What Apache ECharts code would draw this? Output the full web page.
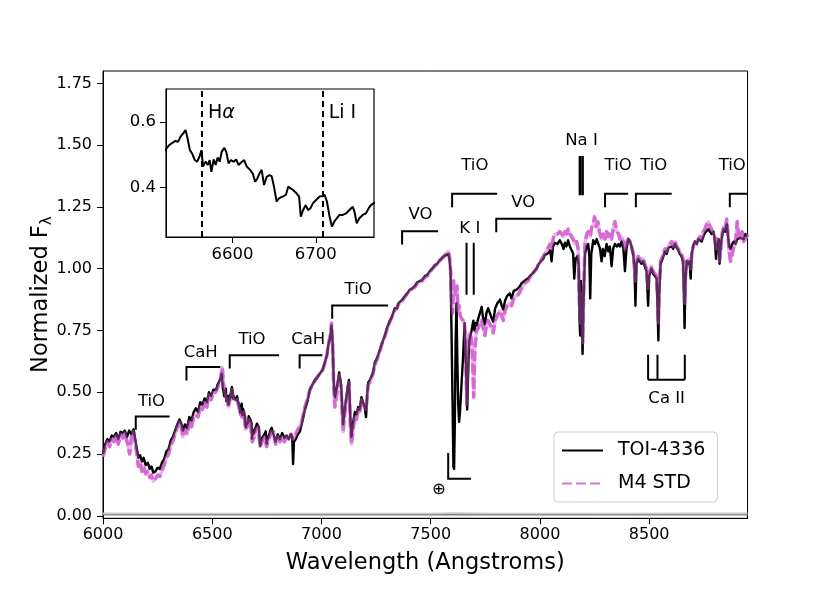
<!DOCTYPE html>
<html>
<head>
<meta charset="utf-8">
<script src="https://cdn.jsdelivr.net/npm/echarts@6.0.0/dist/echarts.min.js"></script>
<style>html,body{margin:0;padding:0;background:#fff}#c{width:830px;height:593px}</style>
</head>
<body>
<div id="c"></div>
<script>
// ---------- data ----------
const toiWave = [6000,6010,6020,6030,6040,6050,6060,6070,6080,6090,6100,6110,6120,6130,6140,6148,6155,6162,6170,6178,6186,6195,6205,6214,6222,6230,6240,6250,6260,6270,6280,6290,6300,6310,6320,6330,6340,6350,6358,6366,6375,6385,6395,6405,6415,6425,6435,6445,6455,6465,6475,6485,6495,6505,6518,
6520.4,6523.6,6527.6,6531.5,6534.3,6537.5,6540.7,6543.5,6545.5,6548.7,6551.4,6554.6,6557.4,6560.2,6562.6,6564.6,6567.4,6570.2,6572.5,6574.5,6577.3,6579.7,6582.1,6584.5,6586.9,6590.1,6592.4,6595.2,6598.0,6601.2,6604.4,6607.2,6610.0,6613.9,6617.1,6621.1,6624.3,6627.1,6629.8,6632.2,6635.0,6637.8,6641.0,6644.2,6647.0,6649.8,6652.9,6656.1,6660.1,6664.1,6666.9,6669.7,6672.8,6676.8,6680.0,6682.0,6684.8,6688.0,6690.7,6693.5,6696.7,6700.7,6704.7,6707.9,6710.7,6713.4,6716.6,6719.4,6722.6,6725.4,6728.6,6732.5,6736.5,6740.5,6744.5,6746.5,6749.2,6752.4,6756.4,6760.4,6763.5,6766.3,6769.1,6772,
6780,6790,6800,6810,6820,6830,6840,6850,6860,6866,6870,6874,6882,6892,6901,6912,6924,6935,6947,6958,6970,6980,6992,7005,7015,7025,7031,7040,7046,7051,7056,7061,7071,7081,7090,7099,7105,7111,7120,7126,7132,7137,7145,7153,7160,7168,7175,7183,7190,7198,7204,7210,7214,7222,7229,7236,7244,7255,7267,7278,7290,7300,7313,7320,7328,7336,7346,7352,7359,7370,7382,7393,7404,7415,7427,7438,7450,7461,7473,7484,7496,7507,7519,7530,7541,7550,7560,7570,7580,7586,7591,7596,7600,7604,7607,7610,7614,7618,7622,7626,7630,7634,7639,7644,7648,7655,7661,7667,7672,7676,7682,7687,7695,7700,7705,7710,7718,7725,7733,7740,7748,7755,7763,7771,7779,7786,7795,7805,7817,7825,7832,7840,7850,7862,7870,7880,7893,7905,7915,7923,7935,7945,7954,7965,7975,7984,7995,8005,8015,8022,8030,8040,8047,8053,8060,8068,8080,8091,8100,8108,8114,8121,8129,8137,8145,8152,8157,8163,8171,8177,8181,8184,8188,8192,8195,8199,8206,8214,8221,8226,8230,8235,8244,8252,8260,8267,8275,8282,8288,8296,8305,8313,8320,8328,8335,8343,8352,8360,8366,8374,8382,8389,8396,8404,8412,8419,8428,8433,8437,8442,8450,8457,8465,8472,8480,8488,8495,8500,8511,8518,8526,8534,8538,8542,8546,8552,8557,8565,8572,8580,8588,8595,8603,8610,8618,8626,8633,8640,8648,8655,8659,8662,8666,8672,8679,8685,8690,8695,8702,8710,8718,8725,8733,8740,8748,8755,8763,8771,8778,8786,8794,8800,8806,8812,8818,8822,8828,8835,8842,8848,8855,8860,8866,8872,8880,8888,8895,8903,8910,8918,8925,8932,8940,8950];
const toiFlux = [0.25,0.29,0.31,0.30,0.325,0.32,0.335,0.31,0.34,0.335,0.345,0.32,0.345,0.33,0.35,0.355,0.27,0.235,0.245,0.22,0.235,0.205,0.215,0.19,0.2,0.175,0.18,0.195,0.19,0.215,0.23,0.26,0.27,0.305,0.32,0.345,0.37,0.39,0.375,0.345,0.37,0.355,0.4,0.385,0.42,0.435,0.42,0.46,0.45,0.475,0.46,0.5,0.485,0.51,0.51,
0.514,0.529,0.536,0.542,0.539,0.555,0.565,0.575,0.555,0.514,0.504,0.484,0.479,0.494,0.514,0.464,0.479,0.469,0.484,0.448,0.486,0.469,0.492,0.479,0.509,0.521,0.509,0.474,0.484,0.479,0.486,0.469,0.476,0.484,0.464,0.454,0.443,0.418,0.428,0.443,0.454,0.408,0.433,0.438,0.435,0.403,0.358,0.368,0.373,0.378,0.403,0.398,0.393,0.383,0.373,0.312,0.332,0.347,0.332,0.337,0.353,0.363,0.373,0.375,0.378,0.358,0.312,0.282,0.298,0.307,0.317,0.317,0.322,0.332,0.342,0.327,0.292,0.307,0.317,0.322,0.337,0.347,0.352,0.356,
0.355,0.3,0.33,0.31,0.335,0.315,0.325,0.31,0.33,0.32,0.21,0.30,0.31,0.33,0.34,0.38,0.43,0.46,0.51,0.53,0.55,0.56,0.575,0.59,0.62,0.65,0.69,0.72,0.77,0.70,0.55,0.48,0.52,0.58,0.53,0.37,0.42,0.46,0.52,0.55,0.40,0.32,0.38,0.42,0.41,0.44,0.43,0.48,0.46,0.44,0.40,0.50,0.54,0.55,0.565,0.58,0.62,0.64,0.67,0.70,0.73,0.76,0.79,0.80,0.82,0.84,0.84,0.86,0.855,0.875,0.89,0.90,0.915,0.92,0.93,0.945,0.95,0.955,0.97,0.975,0.99,1.0,1.015,1.02,1.035,1.04,1.05,1.055,1.06,1.04,0.99,0.70,0.45,0.20,0.19,0.35,0.70,0.86,0.62,0.45,0.38,0.42,0.50,0.58,0.64,0.78,0.62,0.43,0.60,0.70,0.73,0.75,0.79,0.75,0.78,0.77,0.80,0.82,0.845,0.80,0.775,0.82,0.84,0.835,0.80,0.785,0.84,0.86,0.875,0.85,0.835,0.87,0.89,0.90,0.88,0.91,0.915,0.925,0.94,0.945,0.955,0.96,0.97,0.98,0.99,1.0,1.02,1.03,1.04,1.055,1.06,1.065,1.075,1.03,1.09,1.105,1.10,1.115,1.10,1.08,1.105,1.09,1.115,1.09,1.075,1.06,0.96,1.04,1.05,1.02,0.80,0.73,0.95,0.80,0.655,0.85,1.06,1.09,1.10,1.05,0.88,1.06,1.115,1.10,1.12,1.125,1.08,1.03,1.08,1.05,1.10,1.07,1.09,1.01,1.08,1.10,1.09,1.10,1.09,1.11,1.08,0.99,1.08,1.12,1.11,1.09,1.05,1.0,0.85,1.02,1.04,1.03,1.02,1.03,1.01,0.99,0.85,0.97,1.0,0.98,0.98,0.96,0.85,0.71,0.90,1.02,1.03,1.05,1.07,1.06,1.085,1.08,1.09,1.08,1.10,1.085,1.075,1.06,1.05,1.03,0.90,0.76,0.95,1.03,1.02,1.03,0.96,1.06,1.095,1.11,1.10,1.12,1.125,1.11,1.13,1.145,1.14,1.16,1.15,1.14,1.15,1.12,1.04,1.10,1.12,1.02,1.10,1.14,1.16,1.15,1.18,1.14,1.09,1.08,1.10,1.11,1.10,1.12,1.115,1.125,1.13,1.12,1.14,1.13];

const stdWave = [6000,6010,6020,6030,6040,6050,6060,6070,6080,6090,6100,6110,6122,6130,6140,6148,6155,6162,6170,6178,6186,6195,6205,6214,6222,6230,6240,6250,6260,6270,6280,6290,6300,6310,6320,6330,6340,6350,6358,6366,6375,6385,6395,6405,6415,6425,6435,6445,6455,6465,6475,6485,6495,6505,6515,6525,6535,6546,6552,6560,6567,6575,6583,6590,6598,6606,6614,6622,6630,6637,6645,6652,6660,6668,6676,6683,6692,6700,6710,6719,6728,6740,6749,6760,6770,6780,6790,6800,6810,6820,6830,6840,6850,6860,6870,6882,6892,6901,6912,6924,6935,6947,6958,6970,6980,6992,7005,7015,7025,7031,7040,7046,7051,7056,7061,7071,7081,7090,7099,7105,7111,7120,7126,7132,7137,7145,7153,7160,7168,7175,7183,7190,7198,7204,7210,7214,7222,7229,7236,7244,7255,7267,7278,7290,7300,7313,7320,7328,7336,7346,7352,7359,7370,7382,7393,7404,7415,7427,7438,7450,7461,7473,7484,7496,7507,7519,7530,7541,7550,7560,7570,7580,7586,7591,7596,7600,7605,7610,7615,7620,7625,7630,7635,7640,7648,7655,7660,7665,7670,7678,7685,7691,7697,7702,7710,7718,7725,7733,7740,7748,7755,7763,7771,7779,7786,7795,7805,7817,7825,7832,7840,7850,7862,7870,7880,7893,7905,7915,7923,7935,7945,7954,7965,7975,7984,7995,8005,8015,8022,8030,8040,8047,8053,8060,8068,8080,8091,8100,8108,8114,8121,8129,8137,8145,8152,8160,8168,8175,8181,8185,8189,8193,8196,8200,8206,8214,8221,8230,8238,8244,8250,8257,8265,8272,8282,8290,8298,8305,8313,8320,8328,8335,8343,8352,8360,8366,8374,8382,8389,8396,8404,8412,8419,8428,8437,8442,8450,8457,8465,8472,8480,8488,8495,8500,8511,8518,8526,8534,8538,8542,8546,8552,8557,8565,8572,8580,8588,8595,8603,8610,8618,8626,8633,8640,8648,8655,8659,8662,8666,8672,8679,8685,8690,8695,8702,8710,8718,8725,8733,8740,8748,8755,8763,8771,8778,8786,8794,8800,8806,8812,8818,8822,8828,8835,8842,8848,8855,8860,8866,8872,8880,8888,8895,8903,8910,8918,8925,8932,8940,8950];
const stdFlux = [0.24,0.27,0.30,0.28,0.31,0.30,0.325,0.29,0.33,0.315,0.335,0.30,0.25,0.32,0.34,0.345,0.25,0.20,0.22,0.18,0.20,0.17,0.18,0.155,0.165,0.14,0.15,0.165,0.16,0.185,0.205,0.235,0.25,0.285,0.305,0.33,0.36,0.38,0.36,0.32,0.35,0.33,0.38,0.36,0.40,0.41,0.40,0.44,0.43,0.46,0.44,0.49,0.47,0.50,0.50,0.52,0.54,0.60,0.53,0.49,0.47,0.44,0.48,0.51,0.47,0.47,0.47,0.44,0.41,0.40,0.42,0.35,0.36,0.39,0.37,0.30,0.32,0.35,0.36,0.28,0.30,0.32,0.28,0.31,0.34,0.34,0.29,0.32,0.30,0.32,0.30,0.32,0.31,0.33,0.31,0.33,0.35,0.36,0.39,0.44,0.47,0.51,0.53,0.545,0.56,0.575,0.59,0.615,0.65,0.69,0.73,0.78,0.70,0.52,0.44,0.50,0.57,0.51,0.34,0.40,0.45,0.51,0.54,0.37,0.29,0.35,0.40,0.39,0.43,0.42,0.47,0.45,0.44,0.43,0.49,0.53,0.54,0.56,0.575,0.61,0.635,0.665,0.70,0.725,0.755,0.785,0.80,0.815,0.835,0.84,0.855,0.85,0.87,0.885,0.90,0.91,0.92,0.925,0.94,0.945,0.95,0.965,0.97,0.985,1.0,1.01,1.02,1.03,1.04,1.05,1.06,1.07,1.05,0.99,0.86,0.82,0.95,0.92,0.89,0.93,0.83,0.85,0.81,0.80,0.79,0.77,0.70,0.45,0.66,0.74,0.72,0.65,0.48,0.68,0.75,0.76,0.78,0.79,0.76,0.73,0.77,0.79,0.79,0.76,0.74,0.79,0.81,0.83,0.81,0.79,0.83,0.85,0.86,0.85,0.88,0.89,0.90,0.92,0.93,0.945,0.95,0.965,0.975,0.99,1.0,1.02,1.035,1.05,1.06,1.07,1.09,1.10,1.08,1.12,1.14,1.14,1.15,1.14,1.13,1.15,1.14,1.16,1.14,1.13,1.12,1.10,1.11,1.08,0.85,0.78,0.90,0.80,0.70,0.90,1.10,1.14,1.15,1.13,1.17,1.18,1.21,1.17,1.19,1.15,1.12,1.14,1.12,1.15,1.13,1.14,1.12,1.16,1.19,1.15,1.14,1.12,1.13,1.11,1.08,1.10,1.12,1.11,1.09,1.06,0.95,1.03,1.05,1.04,1.03,1.04,1.02,1.0,0.92,0.98,1.01,0.99,0.99,0.97,0.90,0.78,0.92,1.03,1.04,1.06,1.08,1.07,1.09,1.10,1.11,1.09,1.11,1.09,1.08,1.07,1.06,1.04,0.95,0.86,0.97,1.03,1.03,1.04,1.0,1.06,1.09,1.11,1.10,1.12,1.13,1.12,1.15,1.16,1.18,1.19,1.17,1.16,1.16,1.13,1.08,1.12,1.10,1.03,1.08,1.15,1.17,1.16,1.20,1.15,1.07,1.03,1.06,1.09,1.10,1.19,1.13,1.12,1.15,1.11,1.12,1.14];

// flux uncertainty (near zero)
const errWave = [6000,6300,6600,6900,7200,7500,7600,7800,8100,8400,8700,8950];
const errToi  = [0.004,0.004,0.004,0.004,0.004,0.004,0.005,0.004,0.004,0.004,0.004,0.004];
const errStd  = [0.009,0.008,0.008,0.008,0.008,0.008,0.010,0.008,0.008,0.008,0.009,0.009];

const xTicks = [6000,6500,7000,7500,8000,8500];
const yTicks = [0,0.25,0.5,0.75,1.0,1.25,1.5,1.75];
const insetXTicks = [6600,6700];
const insetYTicks = [0.4,0.6];
const insetLineWave = [6563,6708];
const insetLineLabels = ['Hα','Li I'];

// molecular band brackets
const bandLabels = ['TiO','CaH','TiO','CaH','TiO','VO','TiO','VO','TiO','TiO','TiO'];
const bandStart  = [6150,6382,6580,6900,7049,7369,7598,7800,8298,8439,8869];
const bandEnd    = [6305,6537,6806,7004,7305,7534,7804,8053,8404,8603,8950];
const bandLevel  = [0.402,0.602,0.650,0.650,0.851,1.152,1.303,1.202,1.303,1.303,1.303];
const bandLabelX = [6222,6447,6682,6939,7168,7453,7702,7923,8358,8521,8880];
const bandLabelY = [0.463,0.662,0.713,0.713,0.916,1.217,1.415,1.267,1.415,1.415,1.415];
// atomic lines
const kiWave = [7664,7697];  const kiRange = [0.895,1.105];
const naWave = [8183,8195];  const naRange = [1.297,1.456];
const caWave = [8495,8538,8663]; const caRange = [0.551,0.652];
const telWave = [7580,7684]; const telRange = [0.150,0.254];
const lineLabels = [['K I',7679,1.163],['Na I',8190,1.517],['Ca II',8580,0.473],['⊕',7537,0.105]];

// ---------- build ----------
const zip = (a,b) => a.map((v,i)=>[v,b[i]]);
const toiData = zip(toiWave, toiFlux);
const stdData = zip(stdWave, stdFlux);
const insetData = toiData.filter(p => p[0] >= 6515 && p[0] <= 6775);
const FONT = 'DejaVu Sans';
const VIOLET = '#dc72d8';

const bracketData = [];
const tickDepth = 0.054;
bandStart.forEach((x0,i)=>{
  bracketData.push({coords:[[x0,bandLevel[i]-tickDepth],[x0,bandLevel[i]],[bandEnd[i],bandLevel[i]]]});
});
kiWave.forEach(x=>bracketData.push({coords:[[x,kiRange[0]],[x,kiRange[1]]]}));
naWave.forEach(x=>bracketData.push({coords:[[x,naRange[0]],[x,naRange[1]]], lineStyle:{width:2.6}}));
caWave.forEach(x=>bracketData.push({coords:[[x,caRange[1]],[x,caRange[0]]]}));
bracketData.push({coords:[[caWave[0],caRange[0]],[caWave[caWave.length-1],caRange[0]]]});
bracketData.push({coords:[[telWave[0],telRange[1]],[telWave[0],telRange[0]],[telWave[1],telRange[0]]]});

const labelData = bandLabels.map((t,i)=>({name:t, value:[bandLabelX[i], bandLabelY[i]]}))
  .concat(lineLabels.map(l=>({name:l[0], value:[l[1],l[2]]})));

const insetVLines = insetLineWave.map(x=>({coords:[[x,0.25],[x,0.7]]}));

const axisCommon = {
  axisLine:{show:true,onZero:false,lineStyle:{color:'#000',width:1}},
  splitLine:{show:false}
};
const plain = v => String(v);

const chart = echarts.init(document.getElementById('c'), null, {renderer:'canvas'});
chart.setOption({
  animation:false,
  backgroundColor:'#fff',
  textStyle:{fontFamily:FONT},
  grid:[
    {left:103,top:71,width:644.5,height:447.3,show:true,borderColor:'#000',borderWidth:1,backgroundColor:'transparent'},
    {left:166,top:89,width:208,height:148,show:true,borderColor:'#000',borderWidth:1.2,backgroundColor:'#fff',z:10}
  ],
  legend:{
    data:['TOI-4336','M4 STD'],
    orient:'vertical', left:554, top:432,
    itemWidth:41, itemHeight:14, itemGap:14,
    padding:[9,12,9,7],
    borderColor:'#cccccc', borderWidth:1, borderRadius:4, backgroundColor:'rgba(255,255,255,0.85)',
    itemStyle:{opacity:0},
    textStyle:{fontFamily:FONT,fontSize:19,color:'#000',padding:[0,0,0,10]}
  },
  xAxis:[
    Object.assign({},axisCommon,{type:'value',gridIndex:0,min:6000,max:8950,
      axisTick:{show:true,length:6,customValues:xTicks,lineStyle:{color:'#000'}},
      axisLabel:{customValues:xTicks,fontSize:16,color:'#000',fontFamily:FONT,margin:9,formatter:plain},
      name:'Wavelength (Angstroms)',nameLocation:'middle',nameGap:33,nameMoveOverlap:false,
      nameTextStyle:{fontSize:22.5,color:'#000',fontFamily:FONT}}),
    Object.assign({},axisCommon,{type:'value',gridIndex:1,min:6520,max:6770,z:11,
      axisTick:{show:true,length:6,customValues:insetXTicks,lineStyle:{color:'#000'}},
      axisLabel:{customValues:insetXTicks,fontSize:16.5,color:'#000',fontFamily:FONT,margin:9,formatter:plain}})
  ],
  yAxis:[
    Object.assign({},axisCommon,{type:'value',gridIndex:0,min:-0.01,max:1.8,
      axisTick:{show:true,length:6,customValues:yTicks,lineStyle:{color:'#000'}},
      axisLabel:{customValues:yTicks,fontSize:16,color:'#000',fontFamily:FONT,margin:11,formatter:v=>Number(v).toFixed(2)},
      name:'Normalized F{s|λ}',nameLocation:'middle',nameGap:48,nameMoveOverlap:false,
      nameTextStyle:{fontSize:22.5,color:'#000',fontFamily:FONT,
        rich:{s:{fontSize:15,fontFamily:FONT,color:'#000',padding:[12,0,0,0]}}}}),
    Object.assign({},axisCommon,{type:'value',gridIndex:1,min:0.25,max:0.7,z:11,
      axisTick:{show:true,length:6,customValues:insetYTicks,lineStyle:{color:'#000'}},
      axisLabel:{customValues:insetYTicks,fontSize:16.5,color:'#000',fontFamily:FONT,margin:10,formatter:v=>Number(v).toFixed(1)}})
  ],
  series:[
    {type:'line',name:'err1',data:zip(errWave,errStd),showSymbol:false,symbol:'none',silent:true,z:1,
      lineStyle:{color:'#c8c8c8',width:2}},
    {type:'line',name:'err2',data:zip(errWave,errToi),showSymbol:false,symbol:'none',silent:true,z:1,
      lineStyle:{color:'#808080',width:1.3}},
    {type:'line',name:'M4 STD',data:stdData,showSymbol:false,symbol:'none',z:2,
      itemStyle:{color:VIOLET},
      lineStyle:{color:VIOLET,width:3.4,type:[10,4],join:'round'}},
    {type:'line',name:'TOI-4336',data:toiData,showSymbol:false,symbol:'none',z:3,
      itemStyle:{color:'#000'},
      lineStyle:{color:'#000',width:2.4,join:'round'}},
    {type:'line',name:'std_overlay',data:stdData,showSymbol:false,symbol:'none',z:4,silent:true,
      lineStyle:{color:'#d060d0',width:3.4,opacity:0.45,join:'round'}},
    {type:'lines',coordinateSystem:'cartesian2d',polyline:true,z:5,silent:true,
      data:bracketData,
      lineStyle:{color:'#000',width:2,opacity:1,cap:'butt',join:'miter'}},
    {type:'scatter',data:labelData,symbolSize:0,z:6,silent:true,
      itemStyle:{opacity:1,color:'#000'},
      label:{show:true,position:'inside',formatter:'{b}',fontSize:16.5,color:'#000',
        textBorderWidth:0,opacity:1,fontFamily:FONT}},
    {type:'line',xAxisIndex:1,yAxisIndex:1,data:insetData,showSymbol:false,symbol:'none',z:12,
      lineStyle:{color:'#000',width:2}},
    {type:'lines',coordinateSystem:'cartesian2d',xAxisIndex:1,yAxisIndex:1,polyline:false,z:13,silent:true,
      data:insetVLines,
      lineStyle:{color:'#000',width:2,opacity:1,type:[6,4]}},
    {type:'scatter',xAxisIndex:1,yAxisIndex:1,z:13,silent:true,symbolSize:0,
      itemStyle:{opacity:1,color:'#000'},
      data:insetLineLabels.map((t,i)=>({name:t,value:[insetLineWave[i]+7.5,0.627]})),
      label:{show:true,position:'right',distance:0,fontSize:19,color:'#000',opacity:1,fontFamily:FONT,
        formatter:p=>p.name==='Hα'?'H{i|α}':p.name,
        rich:{i:{fontStyle:'italic',fontSize:19,fontFamily:FONT,color:'#000'}}}}
  ]
});
</script>
</body>
</html>
